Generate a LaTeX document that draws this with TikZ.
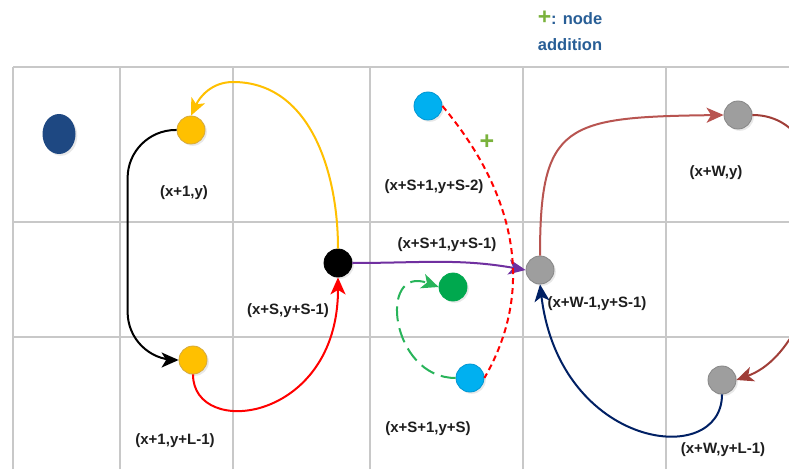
\documentclass[tikz,border=0pt]{standalone}
\usepackage{fontspec}
\setmainfont{Liberation Sans}
\usetikzlibrary{arrows.meta,shadows,shapes.geometric}

\definecolor{gridgray}{RGB}{200,200,200}
\definecolor{nodeblue}{RGB}{30,72,130}
\definecolor{nodeyellow}{RGB}{255,192,0}
\definecolor{yellowedge}{RGB}{214,170,60}
\definecolor{nodecyan}{RGB}{0,176,240}
\definecolor{cyanedge}{RGB}{0,150,210}
\definecolor{nodegreen}{RGB}{0,168,78}
\definecolor{nodegray}{RGB}{158,158,158}
\definecolor{grayedge}{RGB}{135,135,135}
\definecolor{arrowred}{RGB}{255,0,0}
\definecolor{arrowpurple}{RGB}{112,48,160}
\definecolor{arrowgreen}{RGB}{40,180,90}
\definecolor{arrowbrown}{RGB}{184,84,80}
\definecolor{arrowdarkbrown}{RGB}{160,62,56}
\definecolor{arrownavy}{RGB}{0,32,100}
\definecolor{plusgreen}{RGB}{122,178,60}
\definecolor{legendblue}{RGB}{40,94,150}
\definecolor{labelblack}{RGB}{30,30,30}

\begin{document}
\begin{tikzpicture}[x=1pt,y=1pt,
    cell/.style={draw=gridgray,line width=1.4pt},
    dot/.style={circle,minimum size=28pt,inner sep=0pt,line width=0.8pt,
      drop shadow={opacity=0.18,shadow xshift=1.8pt,shadow yshift=-1.8pt}},
    lbl/.style={font=\bfseries\fontsize{15}{17}\selectfont,text=labelblack,inner sep=0pt},
    link/.style={line width=2pt,-{Stealth[length=17pt,width=15pt,inset=4.5pt]}},
    plainlink/.style={line width=2pt}]
        \useasboundingbox (0,0) rectangle (789,469);
        \fill[white] (0,0) rectangle (789,469);
        \foreach \gx in {13,120,233,370,523,666}
          \draw[cell] (\gx,0) -- (\gx,402);
        \foreach \gy in {402,247,132}
          \draw[cell] (13,\gy) -- (789,\gy);

        \node[dot,ellipse,fill=nodeblue,minimum width=33pt,minimum height=40pt] (src) at (59,335) {};
        \node[dot,fill=nodeyellow,draw=yellowedge] (ya) at (191,339) {};
        \node[dot,fill=nodeyellow,draw=yellowedge] (yb) at (193,109) {};
        \node[dot,fill=black,draw=black] (blk) at (338,206) {};
        \node[dot,fill=nodecyan,draw=cyanedge] (ca) at (428,363) {};
        \node[dot,fill=nodecyan,draw=cyanedge] (cb) at (470,91) {};
        \node[dot,fill=nodegreen,draw=nodegreen] (gn) at (453,182) {};
        \node[dot,fill=nodegray,draw=grayedge] (gm) at (540,199) {};
        \node[dot,fill=nodegray,draw=grayedge] (gt) at (738,354) {};
        \node[dot,fill=nodegray,draw=grayedge] (gb) at (722,89) {};

        \node[lbl] (lya) at (184,276) {(x+1,y)};
        \node[lbl] (lyb) at (175,28) {(x+1,y+L-1)};
        \node[lbl] (lblk) at (288,158) {(x+S,y+S-1)};
        \node[lbl] (lca) at (434,282) {(x+S+1,y+S-2)};
        \node[lbl] (lmid) at (447,224) {(x+S+1,y+S-1)};
        \node[lbl] (lgm) at (597,165) {(x+W-1,y+S-1)};
        \node[lbl] (lcb) at (428,40) {(x+S+1,y+S)};
        \node[lbl] (lgt) at (716,296) {(x+W,y)};
        \node[lbl] (lgb) at (723,19) {(x+W,y+L-1)};
        \node[font=\bfseries\fontsize{25}{25}\selectfont,text=plusgreen] (addmark) at (487,327) {+};
        \node[font=\bfseries\fontsize{16.5}{26}\selectfont,text=legendblue,align=center]
          (legend) at (570,438) {{\color{plusgreen}\fontsize{23}{23}\selectfont+}: node\\addition};

        \draw[link,draw=black,rounded corners=48pt]
          (ya.west) -| ([xshift=-51pt]yb.west) -- (yb.west);
        \draw[link,draw=nodeyellow]
          (blk.north) to[out=90,in=0] (233,387) to[out=180,in=65] (ya.north);
        \draw[link,draw=arrowred]
          (yb.south) .. controls +(0,-65) and +(0,-145) .. (blk.south);
        \draw[link,draw=arrowpurple] (blk.east) to[out=0,in=170] (gm.west);
        \draw[plainlink,draw=arrowred,dash pattern=on 6pt off 4pt]
          (ca.east) to[out=-50,in=60] (cb.east);
        \draw[link,draw=arrowgreen,dash pattern=on 15pt off 7pt]
          (cb.west) to[out=180,in=160,looseness=1.8] (gn.west);
        \draw[link,draw=arrowbrown]
          (gm.north) .. controls +(0,132) and +(-159,-2) .. (gt.west);
        \draw[link,draw=arrowdarkbrown] (gt.east) to[out=0,in=20] (gb.east);
        \draw[link,draw=arrownavy]
          (gb.south) .. controls +(0,-75) and +(20,-165) .. (gm.south);
      \end{tikzpicture}
\end{document}
